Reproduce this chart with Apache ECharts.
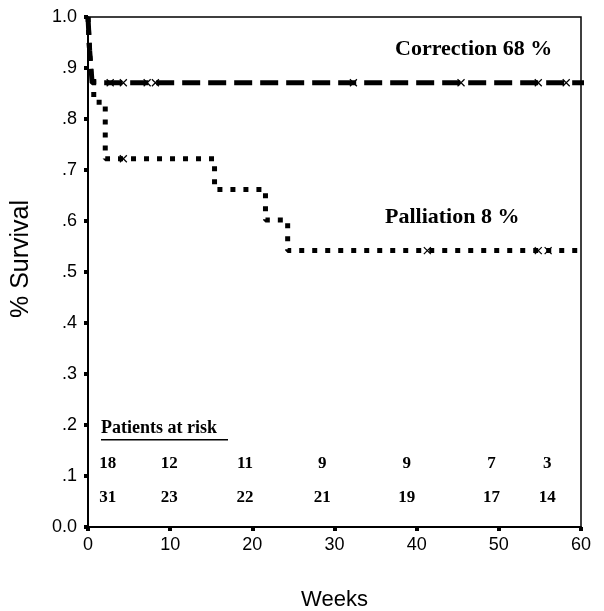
<!DOCTYPE html>
<html lang="en">
<head>
    <meta charset="UTF-8">
    <title>Survival</title>
    <style type="text/css">
        html, body { margin: 0; padding: 0; background: #fff; }
        #main { width: 604px; height: 611px; }
    </style>
    <script src="https://cdn.jsdelivr.net/npm/echarts@6/dist/echarts.min.js"></script>
</head>
<body>
    <div id="main"></div>
    <script type="text/javascript">
        // Kaplan-Meier steps: [weeks, survival]
        var correctionSteps = [[0, 1.0], [0.1, 0.968], [0.2, 0.935], [0.35, 0.903], [0.5, 0.871], [64, 0.871]];
        var palliationSteps = [[0, 1.0], [0.15, 0.944], [0.35, 0.889], [0.7, 0.833], [2.1, 0.722], [15.4, 0.662], [21.6, 0.602], [24.3, 0.542], [64, 0.542]];
        // censored cases
        var correctionCensored = [2.7, 4.3, 7.2, 8.2, 32.3, 45.4, 54.8, 58.2];
        var palliationCensored = [[4.3, 0.722], [41.3, 0.542], [54.8, 0.542], [56.0, 0.542]];
        // patients at risk
        var riskWeeks = [2.4, 9.9, 19.1, 28.5, 38.8, 49.1, 55.9];
        var riskPalliation = [18, 12, 11, 9, 9, 7, 3];
        var riskCorrection = [31, 23, 22, 21, 19, 17, 14];
        var yTicks = { 0: '0.0', 1: '1.0' };

        var myChart = echarts.init(document.getElementById('main'));
        var serif = "'Liberation Serif', 'Times New Roman', serif";
        var sans = "'Liberation Sans', Arial, sans-serif";
        var crossPath = 'path://M0,0L10,10M10,0L0,10';

        var riskRow = function (vals, y) {
            return vals.map(function (v, i) { return [riskWeeks[i], y, v]; });
        };

        var option = {
            animation: false,
            grid: {
                left: 88, top: 17, right: 23, bottom: 84,
                outerBoundsMode: 'none', containLabel: false,
                show: true, borderColor: '#000', borderWidth: 1.5
            },
            xAxis: {
                type: 'value', min: 0, max: 60, interval: 10,
                name: 'Weeks', nameLocation: 'middle', nameGap: 62,
                nameTextStyle: { fontFamily: sans, fontSize: 22, color: '#000' },
                axisLine: { lineStyle: { color: '#000', width: 2 } },
                axisTick: { length: 4, lineStyle: { color: '#000', width: 4 } },
                axisLabel: { margin: 9, fontFamily: sans, fontSize: 18, color: '#000' },
                splitLine: { show: false }
            },
            yAxis: {
                type: 'value', min: 0, max: 1, interval: 0.1,
                axisLine: { lineStyle: { color: '#000', width: 2 } },
                axisTick: { length: 4, lineStyle: { color: '#000', width: 4 } },
                axisLabel: {
                    margin: 11, fontFamily: sans, fontSize: 18, color: '#000',
                    formatter: function (v) {
                        var r = Math.round(v * 10) / 10;
                        return yTicks[r] || r.toFixed(1).replace(/^0/, '');
                    }
                },
                splitLine: { show: false }
            },
            series: [
                {
                    name: 'Correction', type: 'line', step: 'end', clip: false,
                    data: correctionSteps, showSymbol: false,
                    lineStyle: { color: '#000', width: 5, type: [18, 8] }
                },
                {
                    name: 'Palliation', type: 'line', step: 'end', clip: false,
                    data: palliationSteps, showSymbol: false,
                    lineStyle: { color: '#000', width: 5, type: [5, 8] }
                },
                {
                    type: 'scatter', symbol: crossPath, symbolSize: 7,
                    data: correctionCensored.map(function (t) { return [t, 0.871]; })
                        .concat(palliationCensored),
                    itemStyle: { color: 'none', borderColor: '#000', borderWidth: 1.2, opacity: 1 }
                },
                {
                    type: 'scatter', symbolSize: 0,
                    data: riskRow(riskPalliation, 0.125).concat(riskRow(riskCorrection, 0.057)),
                    itemStyle: { opacity: 1 },
                    label: {
                        show: true, position: 'inside', color: '#000', opacity: 1,
                        fontFamily: serif, fontWeight: 'bold', fontSize: 17,
                        formatter: function (p) { return p.value[2]; }
                    }
                }
            ],
            graphic: [
                {
                    type: 'text', x: 21, y: 259, rotation: Math.PI / 2,
                    style: {
                        text: '% Survival', font: '25px ' + sans, fill: '#000',
                        align: 'center', verticalAlign: 'middle'
                    }
                },
                {
                    type: 'text', left: 395, top: 38,
                    style: { text: 'Correction 68 %', font: 'bold 22px ' + serif, fill: '#000' }
                },
                {
                    type: 'text', left: 385, top: 206,
                    style: { text: 'Palliation 8 %', font: 'bold 22px ' + serif, fill: '#000' }
                },
                {
                    type: 'text', left: 101, top: 419,
                    style: { text: 'Patients at risk', font: 'bold 18px ' + serif, fill: '#000' }
                },
                {
                    type: 'rect', left: 101, top: 439,
                    shape: { width: 127, height: 1.5 },
                    style: { fill: '#000' }
                }
            ]
        };
        myChart.setOption(option);
    </script>
</body>
</html>
